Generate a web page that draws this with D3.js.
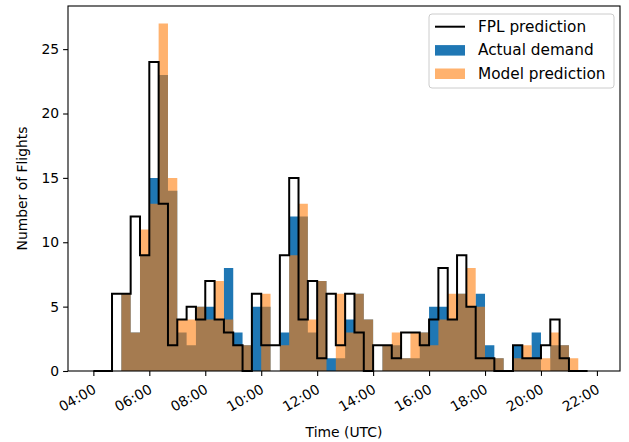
<!DOCTYPE html>
<html>
<head>
<meta charset="utf-8">
<script src="https://cdn.jsdelivr.net/npm/d3@7/dist/d3.min.js"></script>
<style>
body { margin: 0; background: #fff; }
text { font-family: "DejaVu Sans", sans-serif; fill: #000; }
</style>
</head>
<body>
<div id="plot1"></div>
<script>
// 20 minute bins starting 04:00
var firstBin = "04:00";
var binMinutes = 20;

// flights per bin
var fplPrediction = [0,0,6,6,12,9,24,13,2,
    4,5,4,7,4,3,2,0,6,
    2,2,9,15,4,7,1,6,2,
    6,3,0,2,2,1,3,3,2,
    4,8,4,9,5,1,1,0,0,
    2,1,1,2,4,1,0,0];
var actualDemand = [0,0,0,6,3,9,15,23,14,
    3,2,5,5,4,8,3,2,5,
    5,0,3,12,12,3,7,1,1,
    4,6,4,0,2,2,1,1,3,
    5,5,4,6,5,6,2,1,0,
    2,1,3,0,2,2,0,0];
var modelPrediction = [0,0,0,6,3,11,13,27,15,
    4,4,5,4,7,4,2,2,0,
    6,0,2,9,13,4,7,0,6,
    3,6,4,0,2,3,1,3,3,
    2,4,6,6,8,5,1,1,0,
    1,2,1,1,3,2,1,0];

var xTicks = ["04:00","06:00","08:00","10:00","12:00","14:00","16:00","18:00","20:00","22:00"];
var yTicks = [0,5,10,15,20,25];
var legendItems = ["FPL prediction","Actual demand","Model prediction"];

var blue = "#1f77b4";
var orange = "#ff7f0e";

var W = 629, H = 442;
var margin = {t: 6, r: 9, b: 71, l: 68};

function toMin(s){ var p = s.split(":"); return +p[0]*60 + +p[1]; }

var start = toMin(firstBin);
function binEdge(i){ return start + i*binMinutes; }

var svg = d3.select("#plot1").append("svg")
    .attr("width", W).attr("height", H);

var x = d3.scaleLinear()
    .domain([185.6, 1369.5])
    .range([margin.l, W - margin.r]);
var y = d3.scaleLinear()
    .domain([0, 28.35])
    .range([H - margin.b, margin.t]);

function stepPoints(vals){
    var pts = vals.map(function(v,i){ return [binEdge(i), v]; });
    pts.push([binEdge(vals.length), 0]);
    return pts;
}

var area = d3.area()
    .curve(d3.curveStepAfter)
    .x(function(d){ return x(d[0]); })
    .y0(y(0))
    .y1(function(d){ return y(d[1]); });

var line = d3.line()
    .curve(d3.curveStepAfter)
    .x(function(d){ return x(d[0]); })
    .y(function(d){ return y(d[1]); });

var plot = svg.append("g");

plot.append("path")
    .attr("d", area(stepPoints(actualDemand)))
    .attr("fill", blue);

plot.append("path")
    .attr("d", area(stepPoints(modelPrediction)))
    .attr("fill", orange)
    .attr("fill-opacity", 0.6);

// fpl outline, starts and ends on the axis
var fplPts = [[binEdge(0), 0]].concat(stepPoints(fplPrediction));
plot.append("path")
    .attr("d", line(fplPts))
    .attr("fill", "none")
    .attr("stroke", "#000")
    .attr("stroke-width", 2)
    .attr("stroke-linejoin", "miter");

// frame
svg.append("rect")
    .attr("x", margin.l).attr("y", margin.t)
    .attr("width", W - margin.r - margin.l)
    .attr("height", H - margin.b - margin.t)
    .attr("fill", "none")
    .attr("stroke", "#000")
    .attr("stroke-width", 1.1);

// y axis
var yAxis = d3.axisLeft(y).tickValues(yTicks).tickSize(4.9).tickPadding(4);
var gy = svg.append("g").attr("transform", "translate(" + margin.l + ",0)").call(yAxis);
gy.select(".domain").remove();
gy.selectAll("text").style("font-size", "13.9px").style("font-family", "DejaVu Sans");
gy.selectAll("line").attr("stroke-width", 1.1);

// x axis, labels rotated like autofmt_xdate
var xAxis = d3.axisBottom(x).tickValues(xTicks.map(toMin)).tickSize(4.9).tickFormat(function(d, i){ return xTicks[i]; });
var gx = svg.append("g").attr("transform", "translate(0," + (H - margin.b) + ")").call(xAxis);
gx.select(".domain").remove();
gx.selectAll("line").attr("stroke-width", 1.1);
gx.selectAll("text")
    .style("font-size", "13.9px").style("font-family", "DejaVu Sans")
    .attr("text-anchor", "end")
    .attr("y", 0).attr("dy", "0.75em")
    .attr("transform", "translate(-2,12) rotate(-30)");

svg.append("text")
    .attr("x", (margin.l + W - margin.r)/2).attr("y", 437)
    .attr("text-anchor", "middle")
    .style("font-size", "13.9px")
    .text("Time (UTC)");

svg.append("text")
    .attr("transform", "translate(27," + ((margin.t + H - margin.b)/2) + ") rotate(-90)")
    .attr("text-anchor", "middle")
    .style("font-size", "13.9px")
    .text("Number of Flights");

// legend (bigger font than the axes)
var lg = svg.append("g").attr("transform", "translate(429,14)");
lg.append("rect")
    .attr("width", 185).attr("height", 74)
    .attr("rx", 3).attr("ry", 3)
    .attr("fill", "#fff").attr("fill-opacity", 0.8)
    .attr("stroke", "#cccccc").attr("stroke-width", 1);

var rows = lg.selectAll(".row").data(legendItems).enter().append("g")
    .attr("class", "row")
    .attr("transform", function(d,i){ return "translate(0," + (12.7 + i*23.4) + ")"; });

rows.each(function(d,i){
    var g = d3.select(this);
    if (i === 0) {
        g.append("line").attr("x1", 6).attr("x2", 36).attr("y1", 0).attr("y2", 0)
            .attr("stroke", "#000").attr("stroke-width", 2);
    } else {
        g.append("rect").attr("x", 6).attr("y", -5).attr("width", 30).attr("height", 10.5)
            .attr("fill", i === 1 ? blue : orange)
            .attr("fill-opacity", i === 1 ? 1 : 0.6);
    }
    g.append("text").attr("x", 49).attr("y", 0).attr("dy", "0.35em")
        .style("font-size", "15.3px").text(d);
});
</script>
</body>
</html>
